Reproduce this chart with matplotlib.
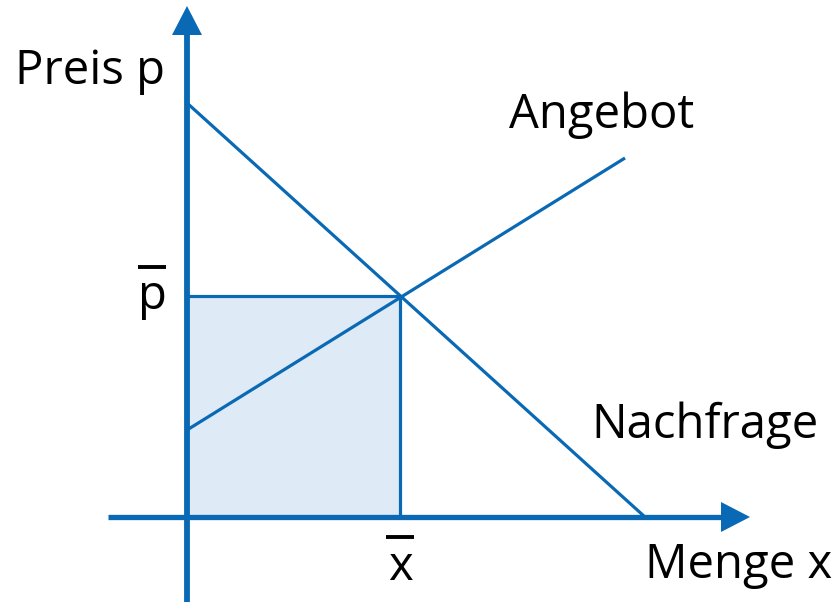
import matplotlib
matplotlib.use("Agg")
import matplotlib.pyplot as plt
from matplotlib.patches import Rectangle, FancyArrow

plt.rcParams['font.family'] = ['Open Sans', 'DejaVu Sans']

BLUE = '#0a69b4'
FILL = '#deeaf5'

# Schematic supply/demand diagram (units: arbitrary)
demand_x = [0, 458]
demand_y = [414, 0]
supply_x = [0, 438]
supply_y = [87, 359]
eq_x, eq_y = 213, 221
labels = {'y': 'Preis p', 'x': 'Menge x', 'supply': 'Angebot', 'demand': 'Nachfrage'}

W, H = 838, 602
ox, oy = 187, 517  # origin in pixels

fig = plt.figure(figsize=(W / 100, H / 100), dpi=100)
ax = fig.add_axes([0, 0, 1, 1])
ax.set_xlim(-ox, W - ox)
ax.set_ylim(-(H - oy), oy)
ax.axis('off')

# shaded rectangle
ax.add_patch(Rectangle((0, 0), eq_x, eq_y, facecolor=FILL, edgecolor='none', zorder=1))

# equilibrium guides
ax.plot([0, eq_x], [eq_y, eq_y], color=BLUE, lw=2.3, zorder=2, solid_capstyle='butt')
ax.plot([eq_x, eq_x], [0, eq_y], color=BLUE, lw=2.3, zorder=2, solid_capstyle='butt')

# curves
ax.plot(demand_x, demand_y, color=BLUE, lw=2.3, zorder=2, solid_capstyle='butt')
ax.plot(supply_x, supply_y, color=BLUE, lw=2.3, zorder=2, solid_capstyle='butt')

# axes with arrows
ax.plot([0, 0], [-85, 484], color=BLUE, lw=4.2, zorder=3, solid_capstyle='butt')
ax.plot([-79, 536], [0, 0], color=BLUE, lw=3.8, zorder=3, solid_capstyle='butt')
ax.add_patch(FancyArrow(0, 482, 0, 0.01, width=0, head_width=30, head_length=29,
                        length_includes_head=False, color=BLUE, zorder=4, lw=0))
ax.add_patch(FancyArrow(534, 0, 0.01, 0, width=0, head_width=30, head_length=29,
                        length_includes_head=False, color=BLUE, zorder=4, lw=0))

fs = 34
ax.text(15 - ox, oy - 84, labels['y'], fontsize=fs, ha='left', va='baseline', color='black')
ax.text(509 - ox, oy - 128, labels['supply'], fontsize=fs, ha='left', va='baseline', color='black')
ax.text(591 - ox, oy - 438, labels['demand'], fontsize=fs, ha='left', va='baseline', color='black')
ax.text(645 - ox, oy - 578, labels['x'], fontsize=fs, ha='left', va='baseline', color='black')

# p-bar and x-bar labels
ax.text(152 - ox, eq_y, 'p', fontsize=fs, ha='center', va='center', color='black')
ax.plot([138 - ox, 166 - ox], [oy - 267, oy - 267], color='black', lw=2.8, solid_capstyle='butt')
ax.text(eq_x, oy - 580, 'x', fontsize=fs, ha='center', va='baseline', color='black')
ax.plot([eq_x - 14, eq_x + 14], [oy - 537, oy - 537], color='black', lw=2.8, solid_capstyle='butt')

fig.savefig('out.png', dpi=100)
